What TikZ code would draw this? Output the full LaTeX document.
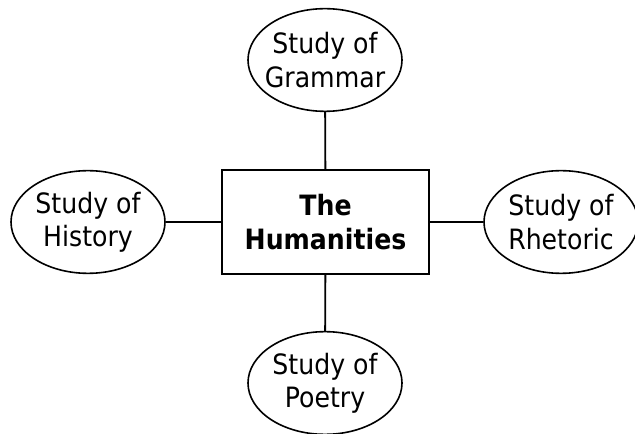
\documentclass[tikz,border=0pt]{standalone}
\usepackage{fontspec}
\setmainfont{DejaVu Sans}[FakeStretch=0.9]
\usetikzlibrary{shapes.geometric}
\tikzset{
  topic/.style={ellipse, draw, line width=1.2pt, inner sep=0pt, minimum width=115.5pt, minimum height=77pt},
  txt/.style={inner sep=0pt, align=center, font=\fontsize{21}{25}\selectfont},
  hub/.style={rectangle, draw, line width=1.4pt, inner sep=0pt, minimum width=155pt, minimum height=78pt, align=center, font=\fontsize{21}{25}\selectfont\bfseries},
  link/.style={line width=1.4pt}
}
\begin{document}
\begin{tikzpicture}[x=0.75pt,y=-0.75pt]
\useasboundingbox (0,0) rectangle (635,434);
\node[hub] (h) at (325.5,222) {The\\Humanities};
\node[topic] (g) at (325,60) {};
\node[txt] (gt) at (g) {Study of\\Grammar};
\node[topic] (hi) at (88,222) {};
\node[txt] (hit) at (hi) {Study of\\History};
\node[topic] (r) at (561,222) {};
\node[txt] (rt) at (r) {Study of\\Rhetoric};
\node[topic] (p) at (325,383) {};
\node[txt] (pt) at (p) {Study of\\Poetry};
\draw[link] (g) -- (h);
\draw[link] (hi) -- (h);
\draw[link] (r) -- (h);
\draw[link] (p) -- (h);
\end{tikzpicture}
\end{document}
